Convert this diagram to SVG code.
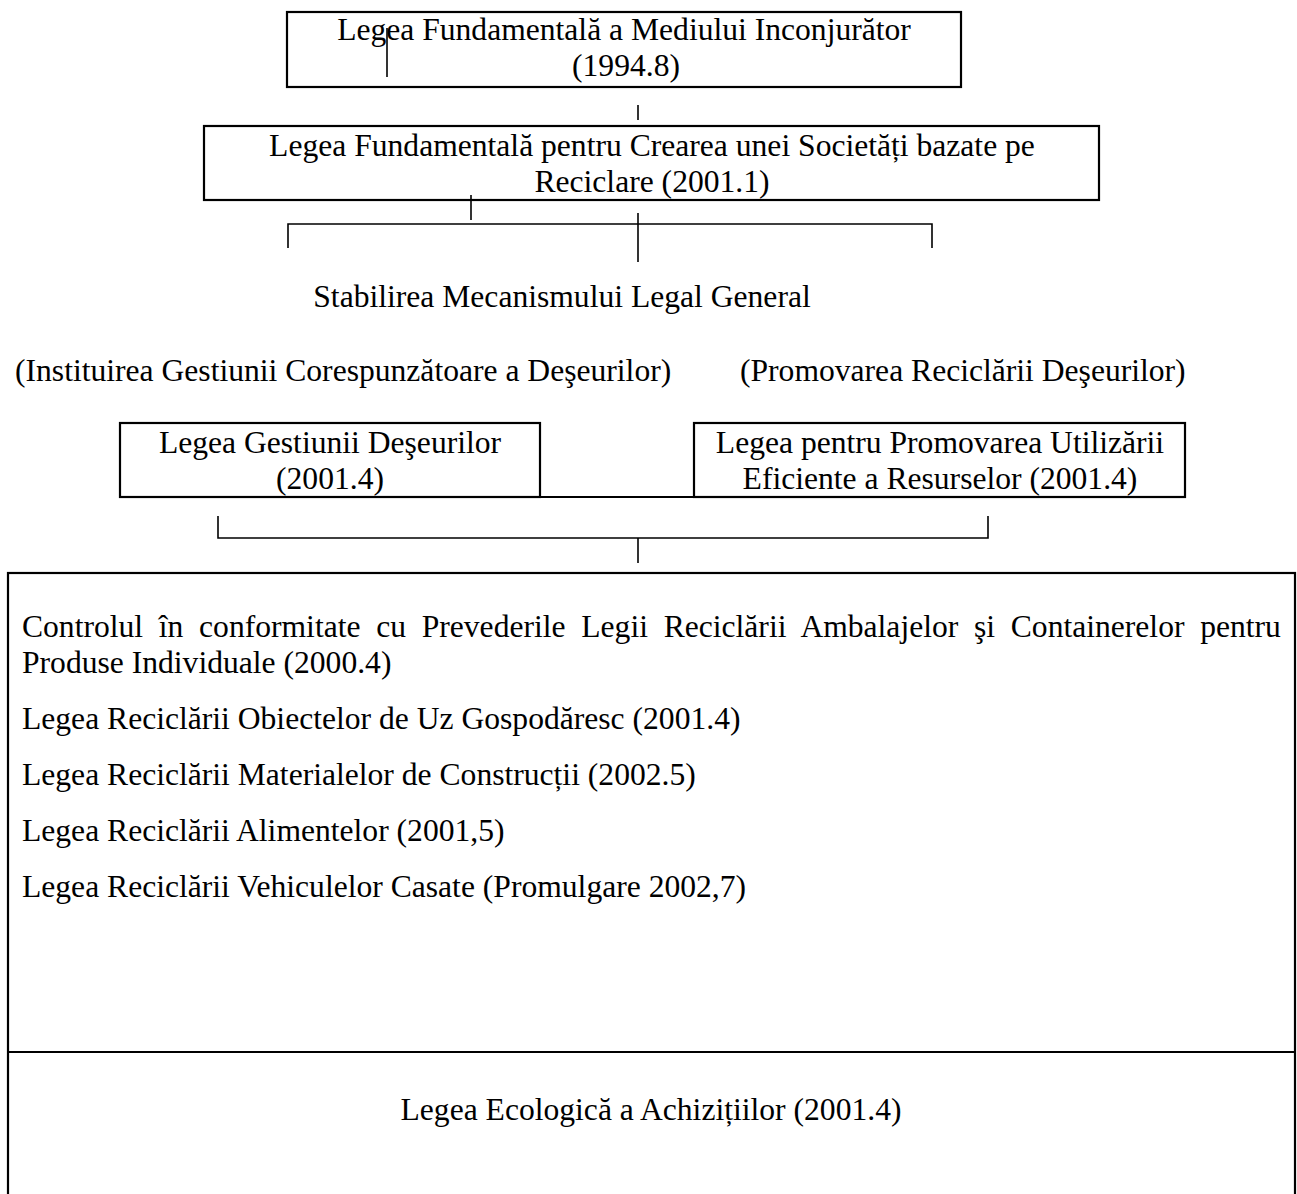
<svg xmlns="http://www.w3.org/2000/svg" width="1297" height="1194" viewBox="0 0 1297 1194">
<style>
text{font-family:"Liberation Serif","Times New Roman",serif;font-size:31.6px;fill:#000}
.c{text-anchor:middle}
.box{fill:none;stroke:#000;stroke-width:2.2}
.ln{fill:none;stroke:#000;stroke-width:1.6}
</style>
<rect width="1297" height="1194" fill="#fff"/>
<g id="connectors">
<line class="ln" x1="387" y1="28" x2="387" y2="77"/>
<line class="ln" x1="638" y1="105" x2="638" y2="120"/>
<line class="ln" x1="471" y1="195" x2="471" y2="220"/>
<line class="ln" x1="638" y1="213" x2="638" y2="262"/>
<polyline class="ln" points="288,248 288,224 932,224 932,248"/>
<polyline class="ln" points="218,516 218,538 988,538 988,516"/>
<line class="ln" x1="638" y1="538" x2="638" y2="563"/>
</g>
<g id="n1">
<rect class="box" x="287" y="12" width="674" height="75"/>
<text class="c" x="624" y="40">Legea Fundamentală a Mediului Inconjurător</text>
<text class="c" x="626" y="76">(1994.8)</text>
</g>
<g id="n2">
<rect class="box" x="204" y="126" width="895" height="74"/>
<text class="c" x="652" y="156">Legea Fundamentală pentru Crearea unei Societăți bazate pe</text>
<text class="c" x="652" y="192">Reciclare (2001.1)</text>
</g>
<g id="n3">
<text class="c" x="562" y="307">Stabilirea Mecanismului Legal General</text>
</g>
<g id="n4">
<text x="15" y="381">(Instituirea Gestiunii Corespunzătoare a Deşeurilor)</text>
</g>
<g id="n5">
<text x="740" y="381">(Promovarea Reciclării Deşeurilor)</text>
</g>
<g id="n6">
<rect class="box" x="120" y="423" width="420" height="74"/>
<text class="c" x="330" y="453">Legea Gestiunii Deşeurilor</text>
<text class="c" x="330" y="489">(2001.4)</text>
</g>
<g id="n7">
<rect class="box" x="694" y="423" width="491" height="74"/>
<text class="c" x="940" y="453">Legea pentru Promovarea Utilizării</text>
<text class="c" x="940" y="489">Eficiente a Resurselor (2001.4)</text>
</g>
<line class="box" x1="540" y1="497" x2="694" y2="497"/>
<g id="n8">
<rect class="box" x="8" y="573" width="1287" height="640"/>
<line class="box" x1="8" y1="1052" x2="1295" y2="1052"/>
<text x="22" y="637" word-spacing="7.8">Controlul în conformitate cu Prevederile Legii Reciclării Ambalajelor şi Containerelor pentru</text>
<text x="22" y="673">Produse Individuale (2000.4)</text>
<text x="22" y="729">Legea Reciclării Obiectelor de Uz Gospodăresc (2001.4)</text>
<text x="22" y="785">Legea Reciclării Materialelor de Construcții (2002.5)</text>
<text x="22" y="841">Legea Reciclării Alimentelor (2001,5)</text>
<text x="22" y="897">Legea Reciclării Vehiculelor Casate (Promulgare 2002,7)</text>
</g>
<g id="n9">
<text class="c" x="651" y="1120">Legea Ecologică a Achizițiilor (2001.4)</text>
</g>
</svg>
